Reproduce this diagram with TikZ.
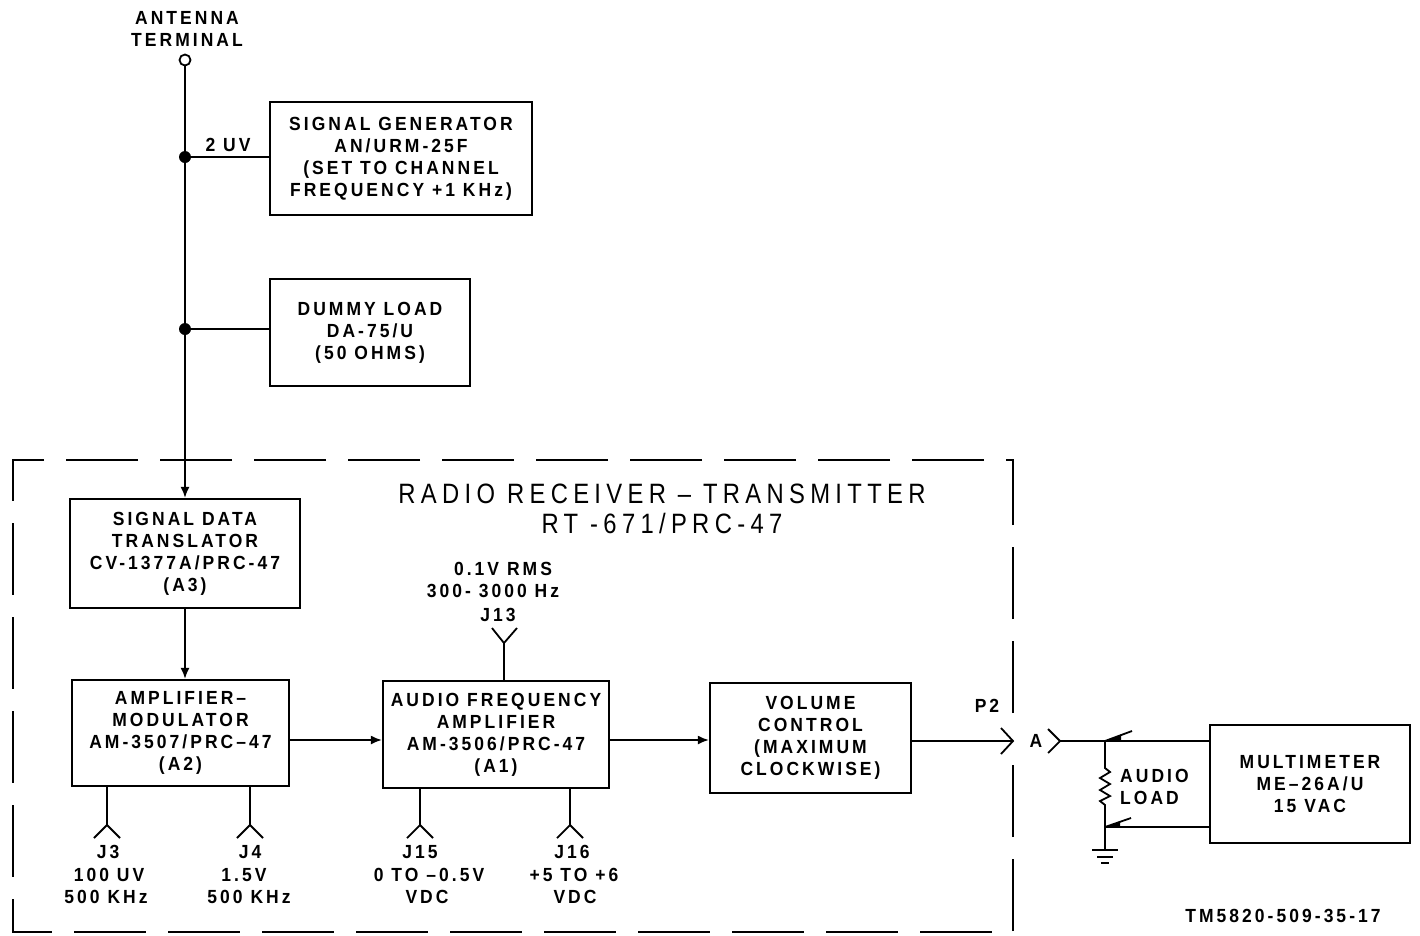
\documentclass[tikz,border=0pt]{standalone}
\usepackage{fontspec}
\setmainfont{Liberation Sans}
\newfontfamily\boxfont{Liberation Sans Bold}[FakeStretch=0.92,LetterSpace=16]
\newfontfamily\titlefont{Liberation Sans}[FakeStretch=0.85,LetterSpace=19]
\usetikzlibrary{arrows.meta}
\tikzset{
  blk/.style={draw, line width=2.2pt, inner sep=0pt, align=center,
    font={\boxfont\fontsize{19}{22}\selectfont}},
  lbl/.style={inner sep=0pt, align=center, font={\boxfont\fontsize{19}{22}\selectfont}},
  wire/.style={line width=1.8pt},
  arr/.style={wire, -{Latex[length=11pt,width=9pt]}},
  dot/.style={circle, fill, inner sep=0pt, minimum size=12pt}
}
\begin{document}
\begin{tikzpicture}[x=1pt,y=-1pt]
\useasboundingbox (0,0) rectangle (1420,935);
\fill[white] (0,0) rectangle (1420,935);

% antenna terminal
\node[lbl] (antlbl) at (187,29) {ANTENNA\\TERMINAL};
\node[circle, draw, line width=1.8pt, minimum size=11pt, inner sep=0pt] (ant) at (185,60) {};

% boxes
\node[blk, minimum width=262pt, minimum height=113pt] (sg) at (401,158.5)
  {SIGNAL GENERATOR\\AN/URM-25F\\(SET TO CHANNEL\\FREQUENCY +1 KHz)};
\node[blk, minimum width=200pt, minimum height=107pt] (dl) at (370,332.5)
  {DUMMY LOAD\\DA-75/U\\(50 OHMS)};
\node[blk, minimum width=230pt, minimum height=109pt] (sdt) at (185,553.5)
  {SIGNAL DATA\\TRANSLATOR\\CV-1377A/PRC-47\\(A3)};
\node[blk, minimum width=217pt, minimum height=106pt] (am) at (180.5,733)
  {AMPLIFIER–\\MODULATOR\\AM-3507/PRC–47\\(A2)};
\node[blk, minimum width=226pt, minimum height=107pt] (af) at (496,734.5)
  {AUDIO FREQUENCY\\AMPLIFIER\\AM-3506/PRC-47\\(A1)};
\node[blk, minimum width=201pt, minimum height=110pt] (vc) at (810.5,738)
  {VOLUME\\CONTROL\\(MAXIMUM\\CLOCKWISE)};
\node[blk, minimum width=200pt, minimum height=118pt] (mm) at (1310,784)
  {MULTIMETER\\ME–26A/U\\15 VAC};

% title
\node[inner sep=0pt, align=center, font={\titlefont\fontsize{28}{30}\selectfont}] (title) at (662,509)
  {RADIO RECEIVER – TRANSMITTER\\RT -671/PRC-47};

% dashed enclosure
\draw[wire, dash pattern=on 72pt off 22pt] (1013,713) -- (1013,460) -- (13,460) -- (13,932) -- (1013,932) -- (1013,760);

% antenna line with junctions
\coordinate (d1) at (185,157);
\coordinate (d2) at (185,329);
\draw[arr] (ant.south) -- (sdt.north);
\node[dot] (dot1) at (d1) {};
\node[dot] (dot2) at (d2) {};
\draw[wire] (d1) -- (d1 -| sg.west);
\draw[wire] (d2) -- (d2 -| dl.west);
\node[lbl] (uv) at (228,145) {2 UV};

% signal chain
\draw[arr] (sdt.south) -- (sdt.south |- am.north);
\coordinate (c1) at (289,740);
\draw[arr] (c1 -| am.east) -- (c1 -| af.west);
\draw[arr] (c1 -| af.east) -- (c1 -| vc.west);

% P2 connector
\coordinate (p2) at (1013,741);
\draw[wire] (p2 -| vc.east) -- (p2);
\draw[wire] (1001,728) -- (p2) -- (1001,754);
\node[lbl] (p2lbl) at (987,706) {P2};
\node[lbl] (alb) at (1036,741) {A};
\coordinate (ja) at (1060,741);
\draw[wire] (1048,729) -- (ja) -- (1048,753);
\draw[wire] (ja) -- (ja -| mm.west);

% audio load
\coordinate (lt) at (1105,741);
\coordinate (lb) at (1105,827);
\coordinate (gnd) at (1105,850);
\draw[wire] (lt) -- (1105,768) -- (1110,772) -- (1100,778) -- (1110,784) -- (1100,790) -- (1110,796) -- (1100,801) -- (1105,805) -- (lb) -- (gnd);
\draw[wire] (lt) -- ++(27,-10);
\fill (1106,741) -- (1121,734.5) -- (1121,741) -- cycle;
\draw[wire] (lb) -- ++(26,-9);
\fill (1106,827) -- (1120,821.5) -- (1120,827) -- cycle;
\draw[wire] (lb) -- (lb -| mm.west);
\draw[wire] (1092,850) -- (1118,850);
\draw[wire] (1097,857) -- (1113,857);
\draw[wire] (1101,863) -- (1109,863);
\node[lbl, align=left, anchor=west] (allbl) at (1120,787) {AUDIO\\LOAD};

% J13
\coordinate (j13) at (504,643);
\draw[wire] (j13 |- af.north) -- (j13);
\draw[wire] (492,628) -- (j13) -- (517,628);
\node[lbl] (j13a) at (503,569) {0.1V RMS};
\node[lbl] (j13b) at (493,591) {300- 3000 Hz};
\node[lbl] (j13c) at (498,615) {J13};

% J3, J4
\coordinate (j3) at (107,825);
\draw[wire] (j3 |- am.south) -- (j3);
\draw[wire] (94,838) -- (j3) -- (120,838);
\coordinate (j4) at (250,825);
\draw[wire] (j4 |- am.south) -- (j4);
\draw[wire] (237,838) -- (j4) -- (263,838);
\node[lbl] (j3l) at (108,852) {J3};
\node[lbl] (j3m) at (109,875) {100 UV};
\node[lbl] (j3n) at (106,897) {500 KHz};
\node[lbl] (j4l) at (250,852) {J4};
\node[lbl] (j4m) at (244,875) {1.5V};
\node[lbl] (j4n) at (249,897) {500 KHz};

% J15, J16
\coordinate (j15) at (420,825);
\draw[wire] (j15 |- af.south) -- (j15);
\draw[wire] (407,838) -- (j15) -- (433,838);
\coordinate (j16) at (570,825);
\draw[wire] (j16 |- af.south) -- (j16);
\draw[wire] (557,838) -- (j16) -- (583,838);
\node[lbl] (j15l) at (420,852) {J15};
\node[lbl] (j15m) at (429,875) {0 TO –0.5V};
\node[lbl] (j15n) at (427,897) {VDC};
\node[lbl] (j16l) at (572,852) {J16};
\node[lbl] (j16m) at (574,875) {+5 TO +6};
\node[lbl] (j16n) at (575,897) {VDC};

% figure id
\node[lbl] (tm) at (1283,916) {TM5820-509-35-17};
\end{tikzpicture}
\end{document}
